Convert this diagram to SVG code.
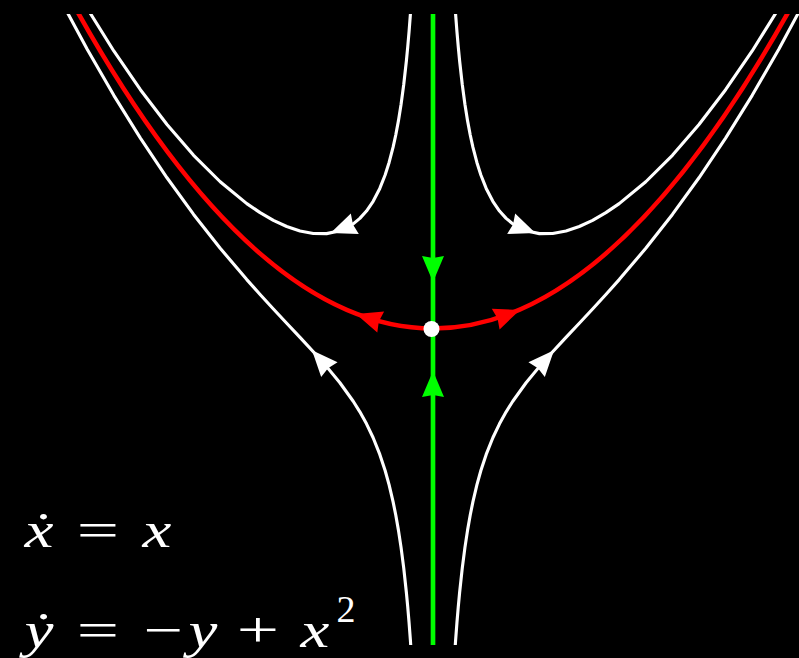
<svg xmlns="http://www.w3.org/2000/svg" xmlns:xlink="http://www.w3.org/1999/xlink" width="799" height="658" viewBox="0 0 799 658">
<style>
.w{fill:none;stroke:#fff;stroke-width:0.0235;stroke-linejoin:round}
.r{fill:none;stroke:#f00;stroke-width:0.034}
.g{fill:none;stroke:#0f0;stroke-width:0.035}
.t{fill:#fff;font-family:"Liberation Serif","DejaVu Serif",serif;font-size:50px}
.i{font-style:italic}
</style>
<defs>
<clipPath id="clip"><rect x="0" y="14" width="799" height="631"/></clipPath>
<path id="ah" d="M0,0 L-26,-11 L-24,0 L-26,11 Z"/>
<path id="up" d="M0.16 2.5085 L0.17 2.3626 L0.18 2.2330 L0.19 2.1173 L0.2 2.0133 L0.22 1.8343 L0.24 1.6859 L0.26 1.5610 L0.28 1.4547 L0.3 1.3633 L0.33 1.2484 L0.36 1.1543 L0.4 1.0533 L0.45 0.9564 L0.5 0.8833 L0.55 0.8281 L0.6 0.7867 L0.7 0.7348 L0.8 0.7133 L0.9 0.7144 L1.0 0.7333 L1.1 0.7670 L1.2 0.8133 L1.3 0.8710 L1.4 0.9390 L1.6 1.1033 L1.8 1.3022 L2.0 1.5333 L2.2 1.7952 L2.4 2.0867 L2.6 2.4072 L2.7 2.5781"/>
<path id="lo" d="M0.15 -2.6592 L0.16 -2.4915 L0.17 -2.3433 L0.18 -2.2114 L0.19 -2.0932 L0.2 -1.9867 L0.22 -1.8021 L0.24 -1.6475 L0.26 -1.5159 L0.28 -1.4024 L0.3 -1.3033 L0.33 -1.1758 L0.36 -1.0679 L0.4 -0.9467 L0.45 -0.8214 L0.5 -0.7167 L0.55 -0.6264 L0.6 -0.5467 L0.7 -0.4081 L0.8 -0.2867 L0.9 -0.1744 L1.0 -0.0667 L1.1 0.0397 L1.2 0.1467 L1.3 0.2556 L1.4 0.3676 L1.6 0.6033 L1.8 0.8578 L2.0 1.1333 L2.2 1.4315 L2.4 1.7533 L2.6 2.0995 L2.8 2.4705"/>
</defs>
<rect x="0" y="0" width="799" height="658" fill="#000"/>
<g id="connectors" clip-path="url(#clip)">
<g transform="matrix(133 0 0 -133 433 328.5)">
<use xlink:href="#up" class="w"/>
<use xlink:href="#up" class="w" transform="scale(-1 1)"/>
<use xlink:href="#lo" class="w"/>
<use xlink:href="#lo" class="w" transform="scale(-1 1)"/>
<path id="unstable" class="r" d="M-2.75 2.5208 Q0 -2.5208 2.75 2.5208"/>
<path id="stable" class="g" d="M0 -2.7 L0 2.7"/>
</g>
</g>
<g id="arrows">
<use xlink:href="#ah" fill="#fff" transform="translate(330.6,233.1) rotate(158.7)"/>
<use xlink:href="#ah" fill="#fff" transform="translate(535.4,233.1) rotate(21.3)"/>
<use xlink:href="#ah" fill="#fff" transform="translate(312,350.3) rotate(-131.9)"/>
<use xlink:href="#ah" fill="#fff" transform="translate(554,350.3) rotate(-48.1)"/>
<use xlink:href="#ah" fill="#f00" transform="translate(356,314) rotate(-161.9)"/>
<use xlink:href="#ah" fill="#f00" transform="translate(520,309.9) rotate(-20.7)"/>
<use xlink:href="#ah" fill="#0f0" transform="translate(433,282) rotate(90)"/>
<use xlink:href="#ah" fill="#0f0" transform="translate(433,371) rotate(-90)"/>
</g>
<g id="fixed-point"><circle cx="431.5" cy="329" r="8" fill="#fff"/></g>
<g id="equations" class="t">
<text class="i" x="39" y="547" text-anchor="middle" transform="translate(39 0) scale(1.3 1) translate(-39 0)">ẋ</text>
<text x="98" y="547" text-anchor="middle" transform="translate(98 0) scale(1.5 1) translate(-98 0)">=</text>
<text class="i" x="157" y="547" text-anchor="middle" transform="translate(157 0) scale(1.3 1) translate(-157 0)">x</text>
<text class="i" x="39" y="647" text-anchor="middle" transform="translate(39 0) scale(1.3 1) translate(-39 0)">ẏ</text>
<text x="98" y="647" text-anchor="middle" transform="translate(98 0) scale(1.5 1) translate(-98 0)">=</text>
<text x="163" y="647" text-anchor="middle" transform="translate(163 0) scale(1.4 1) translate(-163 0)">−</text>
<text class="i" x="203" y="647" text-anchor="middle" transform="translate(203 0) scale(1.3 1) translate(-203 0)">y</text>
<text x="258" y="647" text-anchor="middle" transform="translate(258 0) scale(1.5 1) translate(-258 0)">+</text>
<text class="i" x="315" y="647" text-anchor="middle" transform="translate(315 0) scale(1.3 1) translate(-315 0)">x</text>
<text x="346" y="622" text-anchor="middle" font-size="38">2</text>
</g>
</svg>
